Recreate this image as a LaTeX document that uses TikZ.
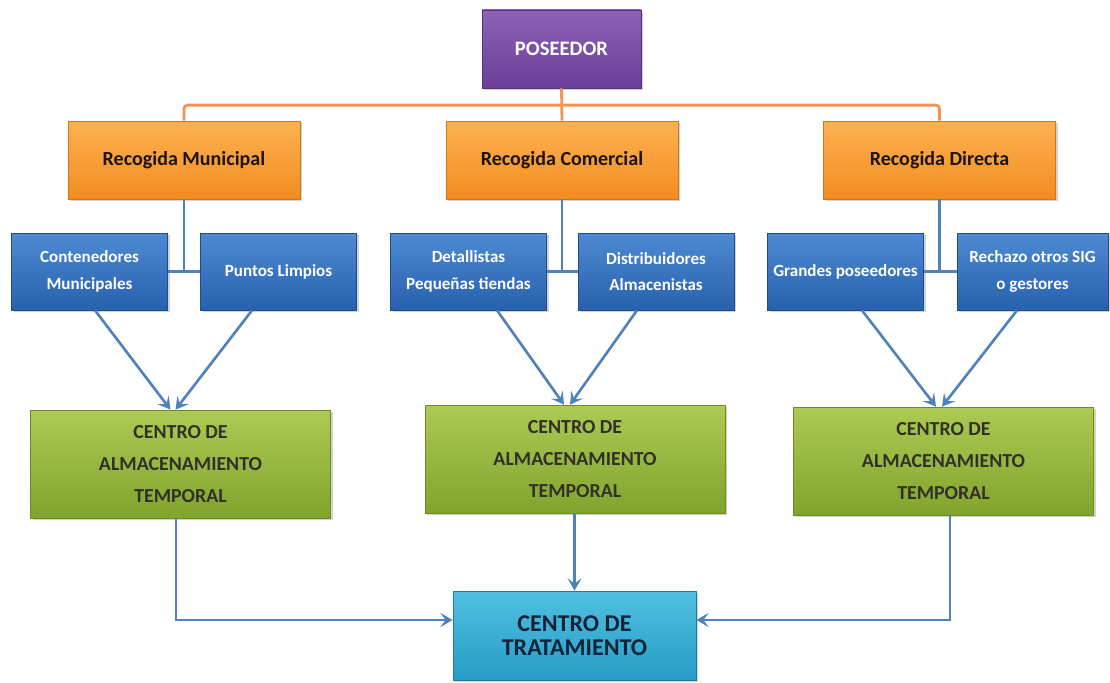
\documentclass[tikz,border=0pt]{standalone}
\usepackage{fontspec}
\setmainfont{Carlito}
\usetikzlibrary{positioning,calc,arrows.meta,shadows}
\definecolor{lilaTop}{RGB}{142,98,184}
\definecolor{lilaBot}{RGB}{108,62,152}
\definecolor{naranjaTop}{RGB}{252,178,82}
\definecolor{naranjaBot}{RGB}{242,140,32}
\definecolor{azulTop}{RGB}{78,138,212}
\definecolor{azulBot}{RGB}{40,96,172}
\definecolor{verdeTop}{RGB}{172,202,84}
\definecolor{verdeBot}{RGB}{128,164,44}
\definecolor{cianTop}{RGB}{80,192,224}
\definecolor{cianBot}{RGB}{38,156,198}
\definecolor{textoCian}{RGB}{20,35,58}
\definecolor{lineaNaranja}{RGB}{240,150,82}
\definecolor{lineaAzul}{RGB}{79,129,189}
\tikzstyle{every node}=[font=\bfseries]
\tikzstyle{caja}=[rectangle, inner sep=0pt, align=center, line width=0.4pt,
  drop shadow={opacity=0.35, shadow xshift=1.2pt, shadow yshift=-1.2pt}]
\tikzstyle{cajalila}=[caja, draw=lilaBot!80!black, top color=lilaTop, bottom color=lilaBot,
  text=white, minimum width=3.18cm, minimum height=1.56cm,
  font=\bfseries\fontsize{11.7}{14}\selectfont]
\tikzstyle{cajanaranja}=[caja, draw=naranjaBot!85!black, top color=naranjaTop, bottom color=naranjaBot,
  text=black!85!brown, minimum width=4.64cm, minimum height=1.56cm,
  font=\bfseries\fontsize{11.4}{14}\selectfont]
\tikzstyle{cajaazul}=[caja, draw=azulBot!80!black, top color=azulTop, bottom color=azulBot,
  text=white, minimum width=3.12cm, minimum height=1.54cm,
  font=\bfseries\fontsize{9.7}{15}\selectfont]
\tikzstyle{cajaverde}=[caja, draw=verdeBot!85!black, top color=verdeTop, bottom color=verdeBot,
  text=black!85!olive, minimum width=6cm, minimum height=2.16cm,
  font=\bfseries\fontsize{11.3}{18}\selectfont]
\tikzstyle{cajacian}=[caja, draw=cianBot!80!black, top color=cianTop, bottom color=cianBot,
  text=textoCian, minimum width=4.86cm, minimum height=1.78cm,
  font=\bfseries\fontsize{13.7}{14}\selectfont]
\tikzstyle{lineanar}=[draw=lineaNaranja, line width=1.6pt]
\tikzstyle{lineaaz}=[draw=lineaAzul, line width=1.5pt]
\tikzstyle{flecha}=[draw=lineaAzul, line width=1.5pt, -{Stealth[length=7pt,width=8pt,inset=3pt]}]

\begin{document}
\begin{tikzpicture}
    \fill[white] (0,0) rectangle (22.2,13.64);
    \useasboundingbox (0,0) rectangle (22.2,13.64);
    % poseedor
    \node[cajalila] (pos) at (11.23,12.66) {POSEEDOR};
    % tipos de recogida
    \node[cajanaranja] (mun) at (3.68,10.44) {Recogida Municipal};
    \node[cajanaranja] (com) at (11.24,10.44) {Recogida Comercial};
    \node[cajanaranja] (dir) at (18.79,10.44) {Recogida Directa};
    % puntos de entrega
    \node[cajaazul] (cont) at (1.79,8.21) {Contenedores\\Municipales};
    \node[cajaazul] (pun) at (5.57,8.21) {Puntos Limpios};
    \node[cajaazul] (det) at (9.37,8.21) {Detallistas\\Peque\~nas tiendas};
    \node[cajaazul] (dis) at (13.12,8.21) {Distribuidores\\Almacenistas};
    \node[cajaazul] (gra) at (16.91,8.21) {Grandes poseedores};
    \node[cajaazul, minimum width=3.02cm] (rech) at (20.65,8.21) {Rechazo otros SIG\\o gestores};
    % almacenamiento temporal
    \node[cajaverde] (alm1) at (3.61,4.36) {CENTRO DE\\ALMACENAMIENTO\\TEMPORAL};
    \node[cajaverde] (alm2) at (11.5,4.46) {CENTRO DE\\ALMACENAMIENTO\\TEMPORAL};
    \node[cajaverde] (alm3) at (18.87,4.42) {CENTRO DE\\ALMACENAMIENTO\\TEMPORAL};
    % tratamiento
    \node[cajacian] (trat) at (11.49,0.93) {CENTRO DE\\TRATAMIENTO};

    % arbol naranja
    \draw[lineanar] (pos.south) -- (com.north);
    \draw[lineanar, rounded corners=2pt] (mun.north) -- ++(0,0.31) -| (dir.north);
    % arbol azul
    \draw[lineaaz] (mun.south) -- (mun.south |- cont.east);
    \draw[lineaaz] (cont.east) -- (pun.west);
    \draw[lineaaz] (com.south) -- (com.south |- det.east);
    \draw[lineaaz] (det.east) -- (dis.west);
    \draw[lineaaz] (dir.south) -- (dir.south |- gra.east);
    \draw[lineaaz] (gra.east) -- (rech.west);
    % flechas al almacenamiento
    \draw[flecha] ($(cont.south)+(0.11,0)$) -- ($(alm1.north)+(-0.2,0)$);
    \draw[flecha] ($(pun.south)+(-0.53,0)$) -- ($(alm1.north)+(-0.1,0)$);
    \draw[flecha] ($(det.south)+(0.57,0)$) -- ($(alm2.north)+(-0.22,0)$);
    \draw[flecha] ($(dis.south)+(-0.38,0)$) -- ($(alm2.north)+(-0.1,0)$);
    \draw[flecha] ($(gra.south)+(0.33,0)$) -- ($(alm3.north)+(-0.15,0)$);
    \draw[flecha] ($(rech.south)+(-0.31,0)$) -- ($(alm3.north)+(-0.03,0)$);
    % flechas al tratamiento
    \draw[flecha] ($(alm1.south)+(-0.09,0)$) |- ($(trat.west)+(0,0.31)$);
    \draw[flecha] (alm2.south -| trat.north) -- (trat.north);
    \draw[flecha] ($(alm3.south)+(0.13,0)$) |- ($(trat.east)+(0,0.31)$);
\end{tikzpicture}
\end{document}
